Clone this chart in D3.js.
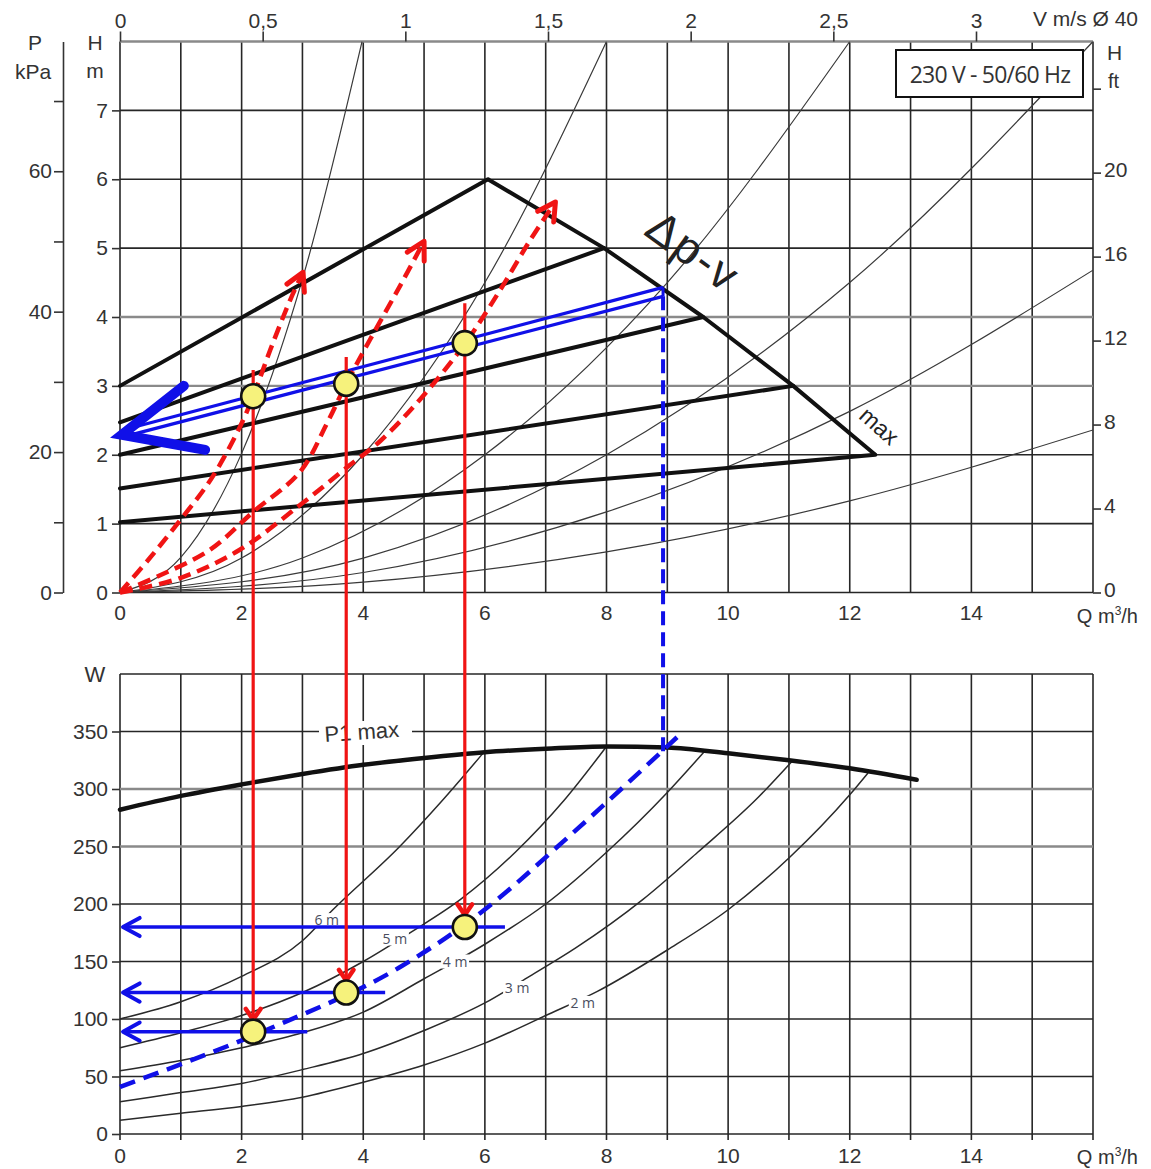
<!DOCTYPE html>
<html><head><meta charset="utf-8">
<script src="https://cdn.jsdelivr.net/npm/d3@7"></script>
<style>body{margin:0;background:#fff}svg{display:block}</style>
</head><body><svg id="c" width="1151" height="1169"></svg>
<script>
// ---------- data ----------
const Q_LABELS = [0,2,4,6,8,10,12,14];
const H_TICKS = [0,1,2,3,4,5,6,7];
const KPA_TICKS = [0,10,20,30,40,50,60,70];
const KPA_LABELED = [0,20,40,60];
const FT_TICKS = [0,4,8,12,16,20,24];
const FT_LABELED = [0,4,8,12,16,20];
const V_TICKS = [0,0.5,1,1.5,2,2.5,3];
const V_LABELS = ["0","0,5","1","1,5","2","2,5","3"];
const W_TICKS = [0,50,100,150,200,250,300,350];

// system curves (Q m3/h, H m)
const sys1 = [[0,0],[1,0.51],[2,2.02],[3,4.55],[3.98,8]];
const sys2 = [[0,0],[2,0.5],[4,2.0],[6,4.5],[8,8]];
const sys3 = [[0,0],[3,0.5],[6,2.0],[9,4.5],[12,8]];
const sys4 = [[0,0],[4,0.5],[8,2.0],[12,4.5],[16,8]];
const sys5 = [[0,0],[4,0.29],[8,1.17],[12,2.63],[16,4.68]];
const sys6 = [[0,0],[4,0.15],[8,0.59],[12,1.33],[16,2.36]];

// delta p-v lines
const dpvStartH = [3.0,2.47,2.0,1.51,1.02];
const dpvEndQ = [6.05,7.96,9.59,11.07,12.42];
const dpvEndH = [6.0,5.0,4.0,3.0,2.0];

// P1 max (Q, W)
const p1maxQ = [0,1,2,3,4,5,6,7,8,9,10,11,12,13.1];
const p1maxW = [282,294,304,313,321,327,332,335,337,336,331,325,318,308];

// power curves per setpoint (Q, W)
const pw6 = [[0,100],[1,115],[2,137],[3,168],[3.5,195],[4.6,250],[5.3,290],[6,333]];
const pw5 = [[0,75],[1,88],[2,103],[3,123],[4,150],[4.8,176],[5.6,204],[6.5,245],[7.3,290],[8,337]];
const pw4 = [[0,55],[1,64],[2,75],[3,88],[4,106],[5,135],[6,165],[7,200],[8,245],[9,297],[9.6,332]];
const pw3 = [[0,28],[1,36],[2,44],[3,56],[4,70],[5,90],[6,114],[6.7,136],[7.5,162],[8.6,204],[9.5,245],[10.5,293],[11.05,324]];
const pw2 = [[0,12],[1,18],[2,24],[3,32],[4,45],[5,60],[6,79],[7,103],[7.85,124],[9,160],[10,195],[11,240],[12,295],[12.3,314]];
const pwLabels = ["6 m","5 m","4 m","3 m","2 m"];
const pwLabelQ = [3.4,4.52,5.51,6.53,7.61];
const pwLabelW = [186,170,150,127,114];

// operating points
const opQ = [2.19,3.72,5.67];
const opH = [2.85,3.03,3.62];
const opW = [89,123,180];
const redStartH = [3.23,3.42,4.2];

// red dashed curves (Q, H)
const red1 = [[0,0],[0.49,0.5],[0.99,1.05],[1.5,1.65],[1.97,2.4],[2.19,2.85],[2.47,3.52],[2.8,4.25],[3.01,4.65]];
const red2 = [[0,0],[0.66,0.25],[1.48,0.62],[2.19,1.17],[2.96,1.75],[3.4,2.45],[3.72,3.03],[4.11,3.67],[4.61,4.46],[5.0,5.1]];
const red3 = [[0,0],[0.99,0.21],[1.97,0.62],[2.96,1.27],[3.78,1.85],[4.28,2.2],[4.93,2.8],[5.67,3.61],[6.25,4.39],[6.74,5.11],[7.16,5.67]];

// blue lines
const blueUpper = [[0.05,2.36],[8.93,4.43]];
const blueLower = [[0.05,2.26],[8.93,4.30]];
const blueVertQ = 8.93, blueVertTopH = 4.30, blueVertBottomW = 332;
const blueDashBottom = [[0,41],[2.52,93],[4.6,145],[5.92,192],[7.45,262],[9.16,345]];
const blueArrowEndQ = [3.08,4.36,6.33];

// ---------- scales ----------
const FONT = '"Liberation Sans", Arial, Helvetica, sans-serif';
const svg = d3.select('#c');
const x = d3.scaleLinear([0,16],[120,1093]);
const yH = d3.scaleLinear([0,8],[592.5,41.5]);
const yP = d3.scaleLinear([0,8*9.81],[592.5,41.5]);
const yFt = d3.scaleLinear([0,8/0.3048],[592.5,41.5]);
const xV = d3.scaleLinear([0,3],[120,976]);
const yW = d3.scaleLinear([0,400],[1134,674]);

const GRID = '#262626', GRAY = '#8a8a8a', TXT = '#333';
const RED = '#f01414', BLUE = '#1010e8';

// ---------- top grid ----------
const gTop = svg.append('g');
gTop.selectAll('line.v').data(d3.range(0,17)).join('line')
  .attr('x1',d=>x(d)).attr('x2',d=>x(d)).attr('y1',yH(0)).attr('y2',yH(8))
  .attr('stroke',GRID).attr('stroke-width',1.6);
gTop.selectAll('line.h').data(d3.range(0,9)).join('line')
  .attr('x1',x(0)).attr('x2',x(16)).attr('y1',d=>yH(d)).attr('y2',d=>yH(d))
  .attr('stroke',d=>(d===3||d===4||d===8)?GRAY:GRID).attr('stroke-width',d=>(d===3||d===4||d===8)?2.4:1.6);

// ---------- bottom grid ----------
const gBot = svg.append('g');
gBot.selectAll('line.v').data(d3.range(0,17)).join('line')
  .attr('x1',d=>x(d)).attr('x2',d=>x(d)).attr('y1',yW(0)+6).attr('y2',yW(400))
  .attr('stroke',GRID).attr('stroke-width',1.6);
gBot.selectAll('line.h').data(d3.range(0,401,50)).join('line')
  .attr('x1',x(0)).attr('x2',x(16)).attr('y1',d=>yW(d)).attr('y2',d=>yW(d))
  .attr('stroke',d=>(d===250||d===300)?GRAY:GRID).attr('stroke-width',d=>(d===250||d===300)?2.4:1.6);

// ---------- axes ----------
function styleAxis(g, keepDomain){
  if(!keepDomain) g.select('.domain').remove();
  else g.select('.domain').attr('stroke',TXT).attr('stroke-width',1.6);
  g.selectAll('text').attr('font-size',21).attr('fill',TXT).attr('font-family',FONT);
  g.selectAll('line').attr('stroke',TXT).attr('stroke-width',1.6);
}
svg.append('g').attr('transform','translate(120,0)')
  .call(d3.axisLeft(yH).tickValues(H_TICKS).tickSize(8).tickPadding(4)).call(g=>styleAxis(g,false));
svg.append('g').attr('transform','translate(63,0)')
  .call(d3.axisLeft(yP).tickValues(KPA_TICKS).tickSize(9).tickSizeOuter(0).tickPadding(2)
    .tickFormat(d=>KPA_LABELED.includes(d)?d:'')).call(g=>styleAxis(g,true));
svg.append('g').attr('transform','translate(1093,0)')
  .call(d3.axisRight(yFt).tickValues(FT_TICKS).tickSize(8).tickPadding(3)
    .tickFormat(d=>FT_LABELED.includes(d)?d:'')).call(g=>styleAxis(g,false))
  .call(g=>g.selectAll('text').attr('dy','0.2em'));
svg.append('g').attr('transform','translate(0,41.5)')
  .call(d3.axisTop(xV).tickValues(V_TICKS).tickSize(10).tickPadding(4)
    .tickFormat((d,i)=>V_LABELS[i])).call(g=>styleAxis(g,false));
svg.append('g').attr('transform','translate(120,0)')
  .call(d3.axisLeft(yW).tickValues(W_TICKS).tickSize(8).tickPadding(4)).call(g=>styleAxis(g,false));

// x labels
const txt = (t,px,py,anchor,size)=>svg.append('text').text(t).attr('x',px).attr('y',py)
  .attr('text-anchor',anchor||'middle').attr('font-size',size||21).attr('font-family',FONT).attr('fill',TXT);
svg.append('g').selectAll('text').data(Q_LABELS).join('text')
  .attr('x',d=>x(d)).attr('y',620).attr('text-anchor','middle').attr('font-size',21)
  .attr('font-family',FONT).attr('fill',TXT).text(d=>d);
svg.append('g').selectAll('text').data(Q_LABELS).join('text')
  .attr('x',d=>x(d)).attr('y',1163).attr('text-anchor','middle').attr('font-size',21)
  .attr('font-family',FONT).attr('fill',TXT).text(d=>d);
function qLabel(py){
  const t = txt('',1138,py,'end',20);
  t.append('tspan').text('Q m');
  t.append('tspan').text('3').attr('font-size',12).attr('dy',-8);
  t.append('tspan').text('/h').attr('dy',8);
}
qLabel(623); qLabel(1164);
txt('P',35,50); txt('kPa',33,79); txt('H',95,50); txt('m',95,78);
txt('H',1107,60,'start'); txt('ft',1108,88,'start',20);
txt('V m/s Ø 40',1138,26,'end');
txt('W',95,682,'middle',22);

// ---------- system curves ----------
const lineH = d3.line().x(d=>x(d[0])).y(d=>yH(d[1])).curve(d3.curveMonotoneX);
svg.append('clipPath').attr('id','ct').append('rect')
  .attr('x',x(0)).attr('y',yH(8)).attr('width',x(16)-x(0)).attr('height',yH(0)-yH(8));
svg.append('g').attr('clip-path','url(#ct)').selectAll('path')
  .data([sys1,sys2,sys3,sys4,sys5,sys6]).join('path')
  .attr('d',lineH).attr('fill','none').attr('stroke','#3a3a3a').attr('stroke-width',1.2);

// ---------- delta p-v lines ----------
const gDp = svg.append('g');
gDp.selectAll('line').data(dpvStartH).join('line')
  .attr('x1',x(0)).attr('y1',d=>yH(d))
  .attr('x2',(d,i)=>x(dpvEndQ[i])).attr('y2',(d,i)=>yH(dpvEndH[i]))
  .attr('stroke','#111').attr('stroke-width',4).attr('stroke-linecap','round');
gDp.append('path').datum(dpvEndQ.map((q,i)=>[q,dpvEndH[i]]))
  .attr('d',d3.line().x(d=>x(d[0])).y(d=>yH(d[1])))
  .attr('fill','none').attr('stroke','#111').attr('stroke-width',4).attr('stroke-linejoin','round');

svg.append('text').text('Δp-v').attr('transform','translate(684,264) rotate(36)')
  .attr('text-anchor','middle').attr('font-size',46).attr('letter-spacing',2)
  .attr('font-family',FONT).attr('fill','#222');
svg.append('text').text('max').attr('transform','translate(874,432) rotate(42)')
  .attr('text-anchor','middle').attr('font-size',23).attr('font-family',FONT).attr('fill','#222');

// box
svg.append('rect').attr('x',896).attr('y',50).attr('width',187).attr('height',47)
  .attr('fill','#fff').attr('stroke','#111').attr('stroke-width',2);
txt('230 V - 50/60 Hz',990,83,'middle',23).attr('font-family','"Open Sans", sans-serif').attr('letter-spacing',-0.8);

// ---------- bottom curves ----------
const lineW = d3.line().x(d=>x(d[0])).y(d=>yW(d[1])).curve(d3.curveMonotoneX);
svg.append('g').selectAll('path').data([pw6,pw5,pw4,pw3,pw2]).join('path')
  .attr('d',lineW).attr('fill','none').attr('stroke','#2a2a2a').attr('stroke-width',1.5);
svg.append('path').datum(p1maxQ.map((q,i)=>[q,p1maxW[i]]))
  .attr('d',lineW).attr('fill','none').attr('stroke','#111').attr('stroke-width',4.5).attr('stroke-linecap','round');
// P1 max label
svg.append('rect').attr('x',319).attr('y',721).attr('width',93).attr('height',24).attr('fill','#fff');
svg.append('text').text('P1 max').attr('transform','translate(325,742) rotate(-4)')
  .attr('font-size',22).attr('font-family',FONT).attr('fill',TXT);
// power curve labels
const gPl = svg.append('g');
gPl.selectAll('rect').data(pwLabels).join('rect')
  .attr('x',(d,i)=>x(pwLabelQ[i])-14).attr('y',(d,i)=>yW(pwLabelW[i])-7)
  .attr('width',28).attr('height',14).attr('fill','#fff');
gPl.selectAll('text').data(pwLabels).join('text')
  .attr('x',(d,i)=>x(pwLabelQ[i])).attr('y',(d,i)=>yW(pwLabelW[i])+5)
  .attr('text-anchor','middle').attr('font-size',14).attr('font-family','"Open Sans", sans-serif')
  .attr('fill','#4a4e5e').text(d=>d);

// ---------- overlays ----------
function chevron(g, tip, from, len, half, color, w){
  const a = Math.atan2(tip[1]-from[1], tip[0]-from[0]);
  const p1 = [tip[0]+len*Math.cos(a+Math.PI-half), tip[1]+len*Math.sin(a+Math.PI-half)];
  const p2 = [tip[0]+len*Math.cos(a+Math.PI+half), tip[1]+len*Math.sin(a+Math.PI+half)];
  g.append('path').attr('d',`M${p1}L${tip}L${p2}`).attr('fill','none').attr('stroke',color)
    .attr('stroke-width',w).attr('stroke-linecap','round').attr('stroke-linejoin','round');
}
const gO = svg.append('g');
// blue double line
[blueUpper, blueLower].forEach(l=>{
  gO.append('path').datum(l).attr('d',d3.line().x(d=>x(d[0])).y(d=>yH(d[1])))
    .attr('stroke',BLUE).attr('stroke-width',3.2).attr('fill','none');
});
gO.append('line').attr('x1',x(blueUpper[1][0])).attr('x2',x(blueLower[1][0]))
  .attr('y1',yH(blueUpper[1][1])).attr('y2',yH(blueLower[1][1])).attr('stroke',BLUE).attr('stroke-width',3);
// big blue chevron
const bigTip = [x(0.03), yH(2.29)];
gO.append('path').attr('d',`M${x(1.05)},${yH(3.0)}L${bigTip}L${x(1.4)},${yH(2.07)}`)
  .attr('fill','none').attr('stroke',BLUE).attr('stroke-width',10).attr('stroke-linecap','round').attr('stroke-linejoin','miter');

// blue dashed vertical + bottom
gO.append('line').attr('x1',x(blueVertQ)).attr('x2',x(blueVertQ))
  .attr('y1',yH(blueVertTopH)).attr('y2',yW(blueVertBottomW))
  .attr('stroke',BLUE).attr('stroke-width',4).attr('stroke-dasharray','14 7');
gO.append('path').datum(blueDashBottom)
  .attr('d',d3.line().x(d=>x(d[0])).y(d=>yW(d[1])).curve(d3.curveMonotoneX))
  .attr('fill','none').attr('stroke',BLUE).attr('stroke-width',4.5).attr('stroke-dasharray','16 9');

// red dashed curves
const redLine = d3.line().x(d=>x(d[0])).y(d=>yH(d[1])).curve(d3.curveCatmullRom);
[red1,red2,red3].forEach(c=>{
  gO.append('path').datum(c).attr('d',redLine).attr('fill','none').attr('stroke',RED)
    .attr('stroke-width',4.5).attr('stroke-dasharray','13 7');
  const n=c.length;
  chevron(gO,[x(c[n-1][0]),yH(c[n-1][1])],[x(c[n-2][0]),yH(c[n-2][1])],20,0.5,RED,5);
});

// blue horizontal arrows (bottom)
opW.forEach((w,i)=>{
  gO.append('line').attr('x1',x(blueArrowEndQ[i])).attr('x2',x(0)+3).attr('y1',yW(w)).attr('y2',yW(w))
    .attr('stroke',BLUE).attr('stroke-width',3.5);
  chevron(gO,[x(0)+3,yW(w)],[x(1),yW(w)],19,0.5,BLUE,4);
});

// red vertical arrows
opQ.forEach((q,i)=>{
  const tip = yW(opW[i])-12;
  gO.append('line').attr('x1',x(q)).attr('x2',x(q)).attr('y1',yH(redStartH[i])).attr('y2',tip-2)
    .attr('stroke',RED).attr('stroke-width',3.2);
  chevron(gO,[x(q),tip],[x(q),tip-50],13,0.6,RED,4.5);
});

// points
const gP = svg.append('g');
opQ.forEach((q,i)=>{
  [[x(q),yH(opH[i])],[x(q),yW(opW[i])]].forEach(p=>{
    gP.append('circle').attr('cx',p[0]).attr('cy',p[1]).attr('r',12)
      .attr('fill','#f6f27c').attr('stroke','#111').attr('stroke-width',2.6);
  });
});
</script></body></html>
